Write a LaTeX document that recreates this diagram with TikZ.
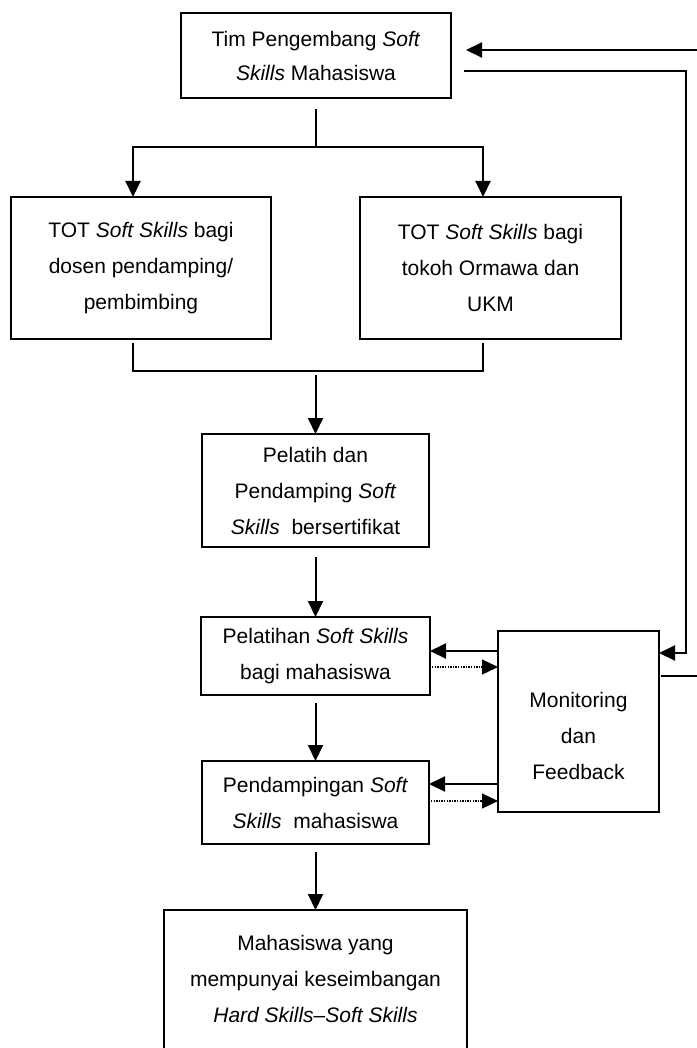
\documentclass[tikz,border=0pt]{standalone}
\usepackage{fontspec}
\setmainfont{Liberation Sans}
\usetikzlibrary{arrows.meta,calc}
\begin{document}
\begin{tikzpicture}[x=1pt,y=-1pt,
  box/.style={draw,line width=2pt,inner sep=0pt,outer sep=0pt,align=center,font={\fontsize{21}{36}\selectfont}},
  txt/.style={inner sep=0pt,align=center,font={\fontsize{21}{36}\selectfont}},
  ln/.style={line width=2pt},
  arr/.style={line width=2pt,-{Triangle[length=16pt,width=15pt]}},
  darr/.style={line width=1.3pt,dash pattern=on 1.3pt off 1.3pt,-{Triangle[length=16pt,width=15pt]}}]
\path[use as bounding box,fill=white] (0,0) rectangle (696,1048);

\node[box,minimum width=270pt,minimum height=85pt,font={\fontsize{21}{34}\selectfont}] (top) at (316,55.5)
  {Tim Pengembang \textit{Soft}\\\textit{Skills} Mahasiswa};
\node[box,minimum width=260pt,minimum height=142pt] (totl) at (141,268)
  {TOT \textit{Soft Skills} bagi\\dosen pendamping/\\pembimbing};
\node[box,minimum width=261pt,minimum height=142pt] (totr) at (490.5,268)
  {TOT \textit{Soft Skills} bagi\\tokoh Ormawa dan\\UKM};
\node[box,minimum width=227pt,minimum height=113pt] (pelatih) at (315.5,490.5)
  {Pelatih dan\\Pendamping \textit{Soft}\\\textit{Skills}\ \ bersertifikat};
\node[box,minimum width=229pt,minimum height=78pt] (pelatihan) at (315.5,656)
  {Pelatihan \textit{Soft Skills}\\bagi mahasiswa};
\node[box,minimum width=227pt,minimum height=83pt] (pendamp) at (315.5,802.5)
  {Pendampingan \textit{Soft}\\\textit{Skills}\ \ mahasiswa};
\node[box,minimum width=161pt,minimum height=181pt] (mon) at (578.5,721.5) {};
\node[txt] (montxt) at (578.5,736) {Monitoring\\dan\\Feedback};
\node[box,minimum width=303pt,minimum height=180pt] (bottom) at (315.5,1000) {};
\node[txt] (bottxt) at (315.5,979) {Mahasiswa yang\\mempunyai keseimbangan\\\textit{Hard Skills--Soft Skills}};

% split from top
\coordinate (j1) at (316,147);
\coordinate (jl) at (133,147);
\coordinate (jr) at (483,147);
\draw[ln] ($(top.south)+(0,11)$) -- (j1);
\draw[arr] (j1) -- (jl) -- (jl |- totl.north);
\draw[arr] (j1) -- (jr) -- (jr |- totr.north);

% merge
\coordinate (ml) at (133,371);
\coordinate (mr) at (483,371);
\draw[ln] ($(totl.south -| ml)+(0,4)$) -- (ml) -- (mr) -- ($(totr.south -| mr)+(0,4)$);
\draw[arr] ($(pelatih.north)+(0,-59)$) -- (pelatih.north);

% main chain
\draw[arr] ($(pelatih.south)+(0,10)$) -- (pelatihan.north);
\draw[arr] ($(pelatihan.south)+(0,8)$) -- (pendamp.north);
\draw[arr] ($(pendamp.south)+(0,8)$) -- (bottom.north);

% monitoring feedback
\coordinate (f1) at (0,651);
\coordinate (f2) at (0,667);
\coordinate (f3) at (0,784);
\coordinate (f4) at (0,801);
\draw[arr] (mon.west |- f1) -- (pelatihan.east |- f1);
\draw[darr] ($(pelatihan.east |- f2)+(2,0)$) -- (mon.west |- f2);
\draw[arr] (mon.west |- f3) -- (pendamp.east |- f3);
\draw[darr] ($(pendamp.east |- f4)+(2,0)$) -- (mon.west |- f4);

% right loops
\coordinate (ts) at (464,71);
\coordinate (rt) at (686,71);
\coordinate (rb) at (686,653);
\draw[arr] (ts) -- (rt) -- (rb) -- (mon.east |- rb);
\coordinate (ms) at (661,676);
\coordinate (ob) at (705,676);
\coordinate (ot) at (705,50);
\coordinate (te) at (466,50);
\draw[arr] (ms) -- (ob) -- (ot) -- (te);
\end{tikzpicture}
\end{document}
